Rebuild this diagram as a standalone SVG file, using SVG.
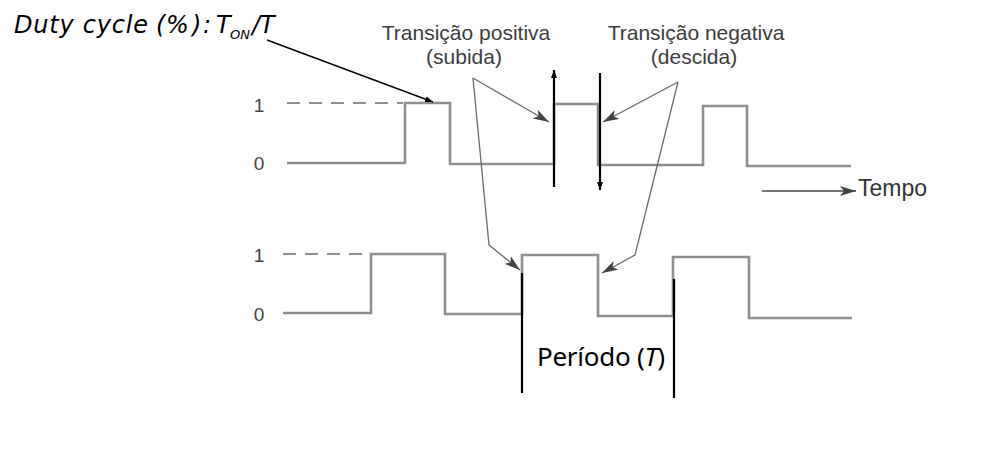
<svg xmlns="http://www.w3.org/2000/svg" width="1008" height="464" viewBox="0 0 1008 464">
<style>
.wave{fill:none;stroke:#8e8e8e;stroke-width:2.6;stroke-linejoin:miter}
.dash{fill:none;stroke:#8e8e8e;stroke-width:1.8;stroke-dasharray:13 9}
.lbl{font-family:"Liberation Sans",Arial,sans-serif;font-size:21px;fill:#3c3c3c}
.dig{font-family:"Liberation Sans",Arial,sans-serif;font-size:19px;fill:#444}
.blk{font-family:"Noto Sans","Open Sans",sans-serif;font-size:26px;fill:#000}
.ttl{font-family:"DejaVu Sans","Noto Sans",sans-serif;font-size:24px;fill:#000;font-style:italic}
.sub{font-family:"DejaVu Sans","Noto Sans",sans-serif;font-size:13px;fill:#000;font-style:italic}
.gl{fill:none;stroke:#6a6a6a;stroke-width:1.3}
.bl{fill:none;stroke:#000;stroke-width:2.2}
</style>
<defs>
<marker id="ga" viewBox="0 0 16 10" refX="16" refY="5" markerWidth="16" markerHeight="10" markerUnits="userSpaceOnUse" orient="auto">
<path d="M0,0 L16,5 L0,10 L4,5 Z" fill="#444"/>
</marker>
<marker id="ba" viewBox="0 0 8 6" refX="8" refY="3" markerWidth="8" markerHeight="6" markerUnits="userSpaceOnUse" orient="auto">
<path d="M0,0 L8,3 L0,6 Z" fill="#000"/>
</marker>
</defs>
<rect width="1008" height="464" fill="#fff"/>

<g id="title">
<text class="ttl" y="33"><tspan x="14" textLength="134" lengthAdjust="spacing">Duty cycle</tspan><tspan x="156">(</tspan><tspan x="166">%</tspan><tspan x="192">)</tspan><tspan x="203">:</tspan><tspan x="216">T</tspan></text>
<text class="sub" x="230" y="39">ON</text>
<text class="ttl" x="252" y="33">/T</text>
</g>

<g id="label-positiva">
<text class="lbl" x="466" y="40" text-anchor="middle">Transição positiva</text>
<text class="lbl" x="464" y="64" text-anchor="middle">(subida)</text>
</g>

<g id="label-negativa">
<text class="lbl" x="696" y="40" text-anchor="middle">Transição negativa</text>
<text class="lbl" x="694" y="64" text-anchor="middle">(descida)</text>
</g>

<g id="wave-top">
<text class="dig" x="259" y="112" text-anchor="middle">1</text>
<text class="dig" x="259" y="170" text-anchor="middle">0</text>
<line class="dash" x1="287" y1="103" x2="403" y2="103"/>
<path class="wave" d="M287,163 L405,163 L405,103 L450,103 L450,164 L554,164 L554,104 L598,104 L598,165 L703,165 L703,106 L747,106 L747,166 L851,166"/>
</g>

<g id="wave-bottom">
<text class="dig" x="259" y="262" text-anchor="middle">1</text>
<text class="dig" x="259" y="321" text-anchor="middle">0</text>
<line class="dash" x1="283" y1="254" x2="368" y2="254"/>
<path class="wave" d="M283,313 L371,313 L371,254 L445,254 L445,314 L522,314 L522,255 L598,255 L598,316 L673,316 L673,257 L749,257 L749,318 L852,318"/>
</g>

<g id="tempo">
<text class="lbl" x="858" y="196" style="font-size:23px;fill:#333">Tempo</text>
</g>

<g id="periodo">
<text class="blk" x="537" y="366" textLength="128" lengthAdjust="spacing">Período (<tspan font-style="italic">T</tspan>)</text>
</g>

<g id="connectors">
<line class="bl" x1="267" y1="40" x2="433" y2="102" style="stroke-width:1.4" marker-end="url(#ba)"/>
<line class="bl" x1="554" y1="187" x2="554" y2="70" marker-end="url(#ba)"/>
<line class="bl" x1="600" y1="73" x2="600" y2="190" marker-end="url(#ba)"/>
<line class="bl" x1="522" y1="273" x2="522" y2="393"/>
<line class="bl" x1="674" y1="279" x2="674" y2="398"/>
<line class="gl" x1="473" y1="78" x2="549" y2="122" marker-end="url(#ga)"/>
<polyline class="gl" points="473,78 489,245 520,270" marker-end="url(#ga)"/>
<line class="gl" x1="678" y1="82" x2="603" y2="122" marker-end="url(#ga)"/>
<polyline class="gl" points="678,82 635,255 602,273" marker-end="url(#ga)"/>
<line class="gl" x1="762" y1="191" x2="856" y2="191" style="stroke:#444;stroke-width:1.6" marker-end="url(#ga)"/>
</g>
</svg>
